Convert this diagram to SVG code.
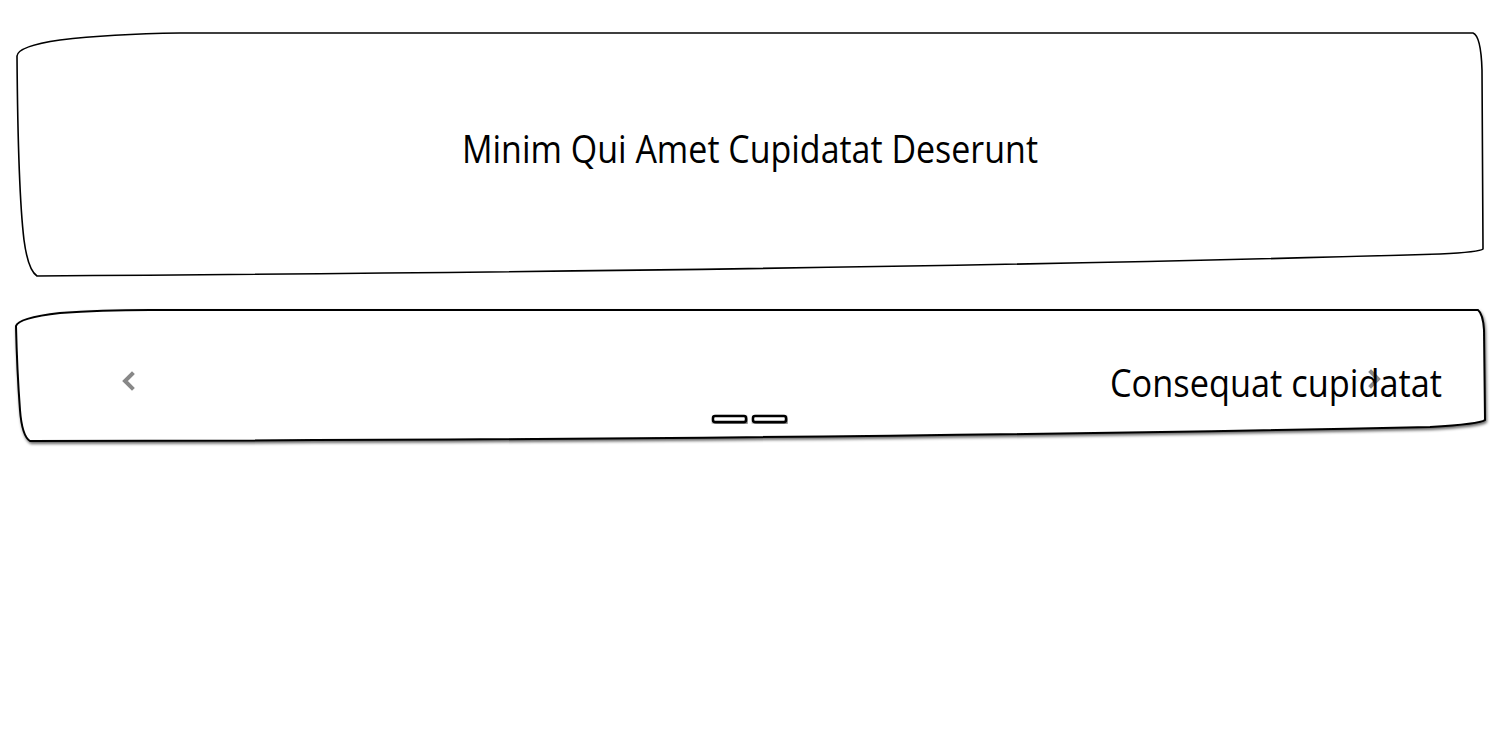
<svg xmlns="http://www.w3.org/2000/svg" width="1500" height="752" viewBox="0 0 1500 752">
<style>
.box{fill:#fff;stroke:#000;stroke-width:1.6;stroke-linejoin:round}
.box2{fill:#fff;stroke:#000;stroke-width:2;stroke-linejoin:round}
.lbl{font-family:"Open Sans","Liberation Sans",sans-serif;fill:#000}
.chev{fill:none;stroke:#888;stroke-width:4;stroke-linecap:square;stroke-linejoin:miter}
.dot{fill:#fff;stroke:#000;stroke-width:2.5}
</style>
<defs>
<filter id="sh" x="-5%" y="-20%" width="110%" height="140%">
<feDropShadow dx="1" dy="2" stdDeviation="1.5" flood-color="#000" flood-opacity="0.6"/>
</filter>
</defs>
<rect width="1500" height="752" fill="#fff"/>
<g id="header">
<path class="box" d="M17,56 Q18,46 60,40 Q110,34 180,33 L1473,33 Q1481,36 1482,70 L1483,249 Q1480,252 1440,254 Q900,270 37,276 Q28,270 24,240 Q18,190 17,56 Z"/>
<text class="lbl" x="750" y="163" font-size="38" text-anchor="middle" textLength="576" lengthAdjust="spacingAndGlyphs">Minim Qui Amet Cupidatat Deserunt</text>
</g>
<g id="carousel">
<path class="box2" filter="url(#sh)" d="M16,326 Q18,318 60,313 Q100,310 150,310 L1478,310 Q1483,314 1484,330 L1485,420 Q1480,424 1430,427 Q800,440 30,441 Q22,436 20,410 Q17,370 16,326 Z"/>
<path class="chev" d="M132,374 L125,381 L132,388"/>
<path class="chev" d="M1371,372 L1378,379 L1371,386"/>
<text class="lbl" x="1442" y="397" font-size="38" text-anchor="end" textLength="332" lengthAdjust="spacingAndGlyphs">Consequat cupidatat</text>
<rect class="dot" filter="url(#sh)" x="713" y="416" width="33" height="6" rx="2"/>
<rect class="dot" filter="url(#sh)" x="753" y="416" width="33" height="6" rx="2"/>
</g>
</svg>
